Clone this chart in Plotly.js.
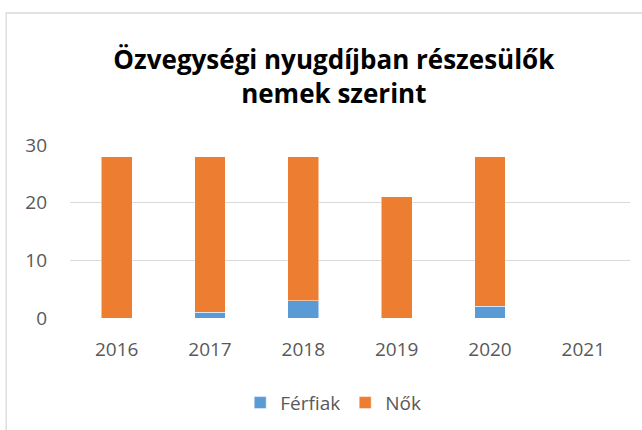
<!DOCTYPE html>
<html>
<head>
<meta charset="utf-8">
<script src="https://cdn.plot.ly/plotly-3.0.1.min.js"></script>
<style>html,body{margin:0;padding:0;background:#fff;}#chart{width:642px;height:430px;}</style>
</head>
<body>
<div id="chart"></div>
<script>
const years = ["2016", "2017", "2018", "2019", "2020", "2021"];
const ferfiak = [0, 1, 3, 0, 2, 0];
const nok = [28, 27, 25, 21, 26, 0];
const yTicks = [0, 10, 20, 30];
const seriesNames = ["Férfiak", "Nők"];
const titleText = "Özvegységi nyugdíjban részesülők<br>nemek szerint";

const FONT = "Open Sans, Noto Sans, sans-serif";
const traces = [
  {type: "bar", name: seriesNames[0], x: years, y: ferfiak,
   marker: {color: "#5B9BD5", line: {color: "#ffffff", width: 0.5}}},
  {type: "bar", name: seriesNames[1], x: years, y: nok,
   marker: {color: "#ED7D31", line: {color: "#ffffff", width: 0.5}}}
];
const layout = {
  width: 642, height: 430,
  margin: {l: 70, r: 12, t: 145, b: 112, autoexpand: false},
  paper_bgcolor: "#ffffff", plot_bgcolor: "#ffffff",
  barmode: "stack", bargap: 0.67,
  font: {family: FONT, color: "#595959", size: 18},
  title: {text: titleText, x: 0.52, xref: "container", xanchor: "center",
          y: 0.84, yref: "container", yanchor: "top",
          font: {family: FONT, size: 26, color: "#000000", weight: "bold"}},
  xaxis: {type: "category", showgrid: false, zeroline: false, showline: false, automargin: false,
          ticks: "", ticklabelstandoff: 18, tickfont: {size: 19, color: "#595959"}},
  yaxis: {range: [0, 30], tickvals: yTicks, showgrid: true, gridcolor: "#D9D9D9", automargin: false,
          gridwidth: 1.3, zeroline: false, showline: false, ticks: "",
          ticklabelstandoff: 22, tickfont: {size: 19, color: "#595959"}},
  showlegend: true,
  legend: {orientation: "h", x: 0.47, xanchor: "center", y: -0.49, yanchor: "middle",
           font: {size: 19, color: "#595959"}, traceorder: "normal", itemwidth: 20},
  shapes: [{type: "rect", xref: "paper", yref: "paper", x0: -0.114, x1: 1.1, y0: -0.9, y1: 1.763,
            line: {color: "#D9D9D9", width: 1.3}, fillcolor: "rgba(0,0,0,0)", layer: "below"}]
};
Plotly.newPlot("chart", traces, layout, {displayModeBar: false, staticPlot: true});
</script>
</body>
</html>
